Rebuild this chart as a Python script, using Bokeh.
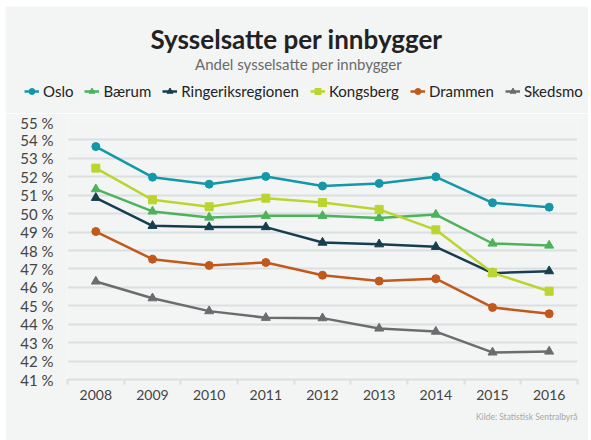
from bokeh.plotting import figure
from bokeh.models import (Range1d, FixedTicker, Legend, LegendItem, Label, Title, Spacer)
from bokeh.layouts import column, row
from bokeh.embed import file_html
from bokeh.resources import INLINE

years = [2008, 2009, 2010, 2011, 2012, 2013, 2014, 2015, 2016]
oslo = [53.64, 51.98, 51.6, 52.02, 51.5, 51.64, 52.0, 50.59, 50.35]
baerum = [51.33, 50.12, 49.79, 49.88, 49.88, 49.77, 49.95, 48.38, 48.27]
ringerike = [50.86, 49.34, 49.27, 49.27, 48.43, 48.34, 48.2, 46.77, 46.88]
kongsberg = [52.47, 50.75, 50.37, 50.84, 50.6, 50.23, 49.12, 46.79, 45.79]
drammen = [49.03, 47.53, 47.19, 47.35, 46.66, 46.34, 46.47, 44.91, 44.57]
skedsmo = [46.32, 45.41, 44.71, 44.35, 44.33, 43.77, 43.6, 42.47, 42.52]
y_ticks = list(range(41, 56))

series = [
    ("Oslo", oslo, "#1497a8", "circle"),
    ("Bærum", baerum, "#4db35a", "triangle"),
    ("Ringeriksregionen", ringerike, "#173e4f", "triangle"),
    ("Kongsberg", kongsberg, "#bcd42e", "square"),
    ("Drammen", drammen, "#c1591c", "circle"),
    ("Skedsmo", skedsmo, "#6b6c6e", "triangle"),
]

FONT = "Lato"
BG = "#f3f5f5"
GRID = "#dcdfe0"
W = 583
TOP = 6
H_HEAD = 107

# ---------- header (title, subtitle, legend) ----------
head = figure(width=W, height=H_HEAD, output_backend="svg", toolbar_location=None,
              x_range=Range1d(0, W), y_range=Range1d(0, H_HEAD),
              x_axis_location=None, y_axis_location=None,
              min_border=0, title_location=None)
head.background_fill_color = BG
head.border_fill_color = BG
head.outline_line_color = None
head.grid.visible = False

head.add_layout(Label(x=291, y=H_HEAD + TOP - 40 + 2, text="Sysselsatte per innbygger",
                      text_align="center", text_baseline="middle",
                      text_font=FONT, text_font_size="26px",
                      text_font_style="bold", text_color="#222222"))
head.add_layout(Label(x=293, y=H_HEAD + TOP - 64 + 1, text="Andel sysselsatte per innbygger",
                      text_align="center", text_baseline="middle",
                      text_font=FONT, text_font_size="15px",
                      text_color="#6a6a6a"))

# ---------- main chart ----------
p = figure(width=W, height=440 - TOP - H_HEAD, output_backend="svg",
           toolbar_location=None, title_location=None,
           x_range=Range1d(years[0] - 0.5, years[-1] + 0.5),
           y_range=Range1d(y_ticks[0], y_ticks[-1]),
           min_border_left=62, min_border_right=11,
           min_border_top=8, min_border_bottom=61)
p.background_fill_color = BG
p.border_fill_color = BG
p.outline_line_color = None

p.yaxis.ticker = FixedTicker(ticks=y_ticks)
p.yaxis.major_label_overrides = {v: f"{v} %" for v in y_ticks}
p.yaxis.axis_line_color = None
p.yaxis.major_tick_line_color = None
p.yaxis.minor_tick_line_color = None
p.yaxis.major_label_text_font = FONT
p.yaxis.major_label_text_font_size = "15px"
p.yaxis.major_label_text_color = "#444444"
p.yaxis.major_label_standoff = 8

boundaries = [y - 0.5 for y in years] + [years[-1] + 0.5]
p.xaxis.ticker = FixedTicker(ticks=years, minor_ticks=boundaries)
p.xaxis.major_label_overrides = {y: str(y) for y in years}
p.xaxis.axis_line_color = GRID
p.xaxis.axis_line_width = 2
p.xaxis.major_tick_line_color = None
p.xaxis.minor_tick_line_color = GRID
p.xaxis.minor_tick_line_width = 2
p.xaxis.minor_tick_out = 5
p.xaxis.minor_tick_in = 0
p.xaxis.major_label_text_font = FONT
p.xaxis.major_label_text_font_size = "14px"
p.xaxis.major_label_text_color = "#444444"
p.xaxis.major_label_standoff = 4

p.xgrid.grid_line_color = None
p.ygrid.ticker = FixedTicker(ticks=y_ticks)
p.ygrid.grid_line_color = GRID
p.ygrid.grid_line_width = 2

items = []
for name, vals, color, marker in series:
    size = 9 if marker == "triangle" else 8
    p.line(years, vals, line_color=color, line_width=2.5)
    p.scatter(years, vals, marker=marker, size=size, fill_color=color,
              line_color=color)
    # legend swatches: same series drawn in the header, where they fall
    # outside the header's ranges and are clipped away
    r1 = head.line(years, vals, line_color=color, line_width=2.5)
    r2 = head.scatter(years, vals, marker=marker, size=size, fill_color=color,
                      line_color=color)
    items.append(LegendItem(label=name, renderers=[r1, r2]))

legend = Legend(items=items, location=(19, H_HEAD + TOP - 100), orientation="horizontal",
                background_fill_alpha=0, border_line_color=None,
                padding=0, margin=0, spacing=11, glyph_width=15,
                glyph_height=16, label_height=16, label_standoff=4,
                label_text_font=FONT, label_text_font_size="15px",
                label_text_color="#222222")
head.add_layout(legend)

p.add_layout(Title(text="Kilde: Statistisk Sentralbyrå", align="right",
                   text_font=FONT, text_font_size="8.5px",
                   text_font_style="normal", text_color="#a8a8a8",
                   standoff=15), "below")

layout = row(Spacer(width=5),
             column(Spacer(height=TOP), row(head), row(p), spacing=0),
             spacing=0)
open("out.html", "w").write(file_html(layout, INLINE))
